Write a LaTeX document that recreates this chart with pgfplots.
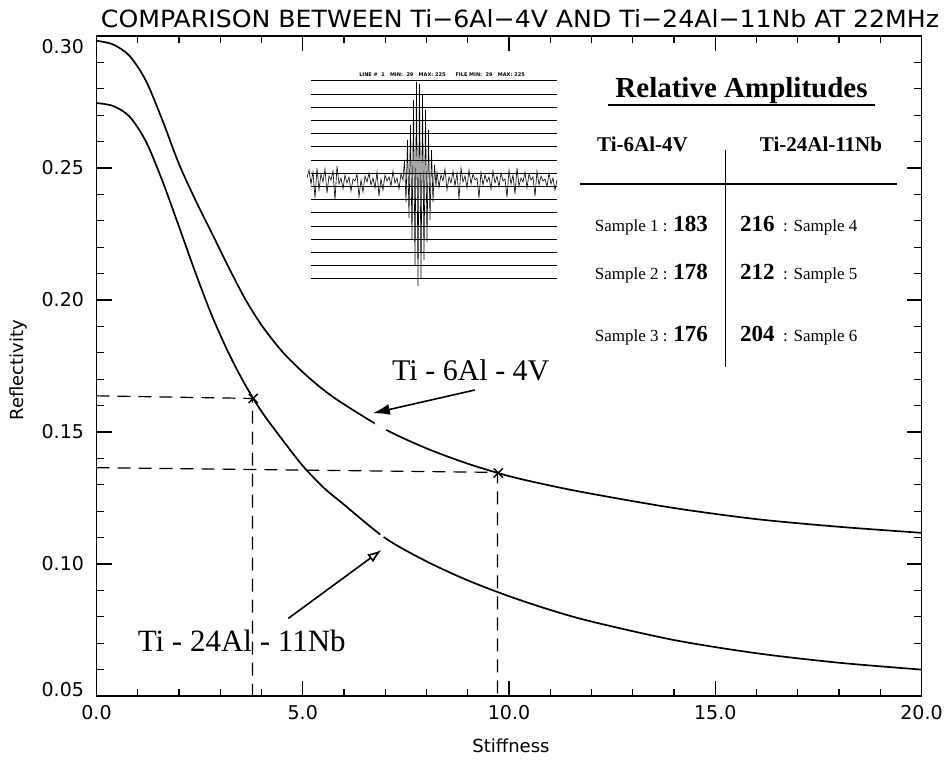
\documentclass[border=0pt]{standalone}
\usepackage{graphicx}
\usepackage{pgfplots}
\pgfplotsset{compat=1.18}
\usepackage{fontspec}
\setmainfont{DejaVu Sans}
\newfontfamily\tnr{Liberation Serif}
\usetikzlibrary{arrows.meta}
\newcommand{\yl}[2]{\raisebox{#1}[0pt][0pt]{#2}}

\begin{document}
\begin{tikzpicture}[x=1pt,y=1pt]
\path[use as bounding box] (-96.5,-65) rectangle (851.5,696);
\begin{axis}[
  at={(0,0)}, anchor=south west,
  scale only axis, width=825pt, height=660pt,
  xmin=0, xmax=20, ymin=0.05, ymax=0.30,
  xtick={0,5,10,15,20}, minor x tick num=4,
  xticklabels={0.0,5.0,10.0,15.0,20.0},
  ytick={0.05,0.10,0.15,0.20,0.25,0.30}, minor y tick num=4,
  yticklabels={\yl{0pt}{0.05},\yl{-6.9pt}{0.10},\yl{-6.9pt}{0.15},\yl{-6.9pt}{0.20},\yl{-6.9pt}{0.25},\yl{-17.5pt}{0.30}},
  xtick pos=both, ytick pos=both,
  xticklabel pos=lower, yticklabel pos=left,
  tick align=inside,
  major tick length=15pt, minor tick length=7.5pt,
  every tick/.style={black, line width=1.3pt},
  axis line style={line width=1.6pt},
  xticklabel style={font=\fontsize{19}{19}\selectfont, yshift=-6pt},
  yticklabel style={font=\fontsize{19}{19}\selectfont, xshift=-9pt},
  clip=false,
]
% Ti-6Al-4V
\addplot[black, line width=1.7pt, smooth, tension=0.5] coordinates {
(0,0.2982) (0.4,0.2968) (0.8,0.2925) (1.2,0.2830) (1.6,0.2680) (2.0,0.2515)
(2.4,0.2378) (2.8,0.2252) (3.2,0.2125) (3.6,0.2005) (4.0,0.1905) (4.5,0.1805)
(5.0,0.1727) (5.5,0.1660) (6.0,0.1605) (7.0,0.1510) (8.0,0.1438) (9.0,0.1380)
(10,0.1333) (11,0.1297) (12,0.1266) (14,0.1212) (16,0.1170) (18,0.1141) (20,0.1118)};
% Ti-24Al-11Nb
\addplot[black, line width=1.7pt, smooth, tension=0.5] coordinates {
(0,0.2746) (0.4,0.2735) (0.8,0.2695) (1.2,0.2600) (1.6,0.2450) (2.0,0.2278)
(2.4,0.2103) (2.8,0.1940) (3.2,0.1800) (3.6,0.1680) (4.0,0.1578) (4.5,0.1472)
(5.0,0.1372) (5.5,0.1290) (6.0,0.1225) (7.0,0.1098) (8.0,0.1010) (9.0,0.0938)
(10,0.0878) (11,0.0826) (12,0.0782) (14,0.0712) (16,0.0662) (18,0.0626) (20,0.0600)};
% small breaks in the curves near the arrow heads
\draw[white, line width=3.5pt] (axis cs:6.76,0.1535) -- (axis cs:7.02,0.1508);
\draw[white, line width=3.5pt] (axis cs:6.88,0.1111) -- (axis cs:6.96,0.1103);
% dashed guides
\addplot[black, line width=1.2pt, dash pattern=on 13pt off 8pt] coordinates {(0,0.1637) (3.78,0.1627) (3.78,0.05)};
\addplot[black, line width=1.2pt, dash pattern=on 13pt off 8pt] coordinates {(0,0.1365) (9.72,0.1347) (9.72,0.05)};
% markers
\addplot[black, only marks, mark=x, mark size=6.5pt, line width=1.4pt] coordinates {(3.80,0.1627) (9.74,0.1345)};
% arrows
\draw[-{Latex[length=17pt,width=11pt]}, line width=1.6pt] (axis cs:9.17,0.1659) -- (axis cs:6.70,0.1571);
\draw[-{Latex[open,length=14pt,width=10pt]}, line width=1.6pt] (axis cs:4.65,0.0794) -- (axis cs:6.91,0.1053);
\end{axis}

% inset waveform
\begin{axis}[
  at={(210.5,406)}, anchor=south west,
  scale only axis, width=250pt, height=210pt,
  xmin=0, xmax=250, ymin=0, ymax=210,
  hide axis, clip=false]
\pgfplotsinvokeforeach{209,195.8,182.6,169.4,156.2,143,129.8,116.6,103.4,90.2,77,63.8,50.6,37.4,24.2,11}{
  \addplot[black, line width=1pt] coordinates {(4,#1) (250,#1)};
}
\addplot[black, line width=0.6pt] coordinates {
(0,112)(2,120)(4,106)(6,118)(8,92)(10,122)(12,100)(14,116)(16,108)(18,121)(20,97)(22,114)(24,110)(26,119)(28,90)(30,124)(32,106)(34,112)(36,101)(38,115)(40,107)(42,113)(44,99)(46,111)(48,109)(50,116)(52,93)(54,110)(56,98)(58,114)(60,108)(62,117)(64,105)(66,112)(68,102)(70,118)(72,94)(74,111)(76,100)(78,115)(80,109)(82,113)(84,104)(86,119)(88,107)(90,112)(92,101)(94,116)
(96,110)(97.5,130)(99,88)(100.5,150)(102,72)(103.5,165)(105,50)(106.5,190)(108,25)(109.5,208)(111,4)(112.5,206)(114,12)(115.5,195)(117,30)(118.5,180)(120,48)(121.5,160)(123,70)(124.5,140)(126,88)(127.5,125)(129,104)
(130,118)(132,103)(134,115)(136,109)(138,121)(140,100)(142,113)(144,107)(146,119)(148,104)(150,117)(152,91)(154,122)(156,108)(158,114)(160,102)(162,120)(164,106)(166,116)(168,110)(170,112)(172,92)(174,118)(176,105)(178,115)(180,108)(182,113)(184,101)(186,119)(188,107)(190,114)(192,103)(194,117)(196,109)(198,111)(200,93)(202,120)(204,106)(206,115)(208,96)(210,122)(212,104)(214,112)(216,108)(218,118)(220,102)(222,116)(224,110)(226,113)(228,94)(230,119)(232,105)(234,114)(236,109)(238,111)(240,103)(242,117)(244,106)(246,112)(248,100)(250,110)};
\node[font=\bfseries\fontsize{5}{5}\selectfont, anchor=base] at (axis cs:135,213) {LINE \#\ \ 1\ \ \ MIN:\ \ 29\ \ \ MAX:\ 225\qquad FILE MIN:\ \ 29\ \ \ MAX:\ 225};
\end{axis}

% title and axis labels
\node[anchor=base, inner sep=0] at (423.5,668) {\resizebox{838pt}{18pt}{COMPARISON BETWEEN Ti−6Al−4V AND Ti−24Al−11Nb AT 22MHz}};
\node[anchor=base, inner sep=0] at (414.5,-56) {\fontsize{18}{18}\selectfont Stiffness};
\node[anchor=base, inner sep=0, rotate=90] at (-72.5,326) {\fontsize{18}{18}\selectfont Reflectivity};

% curve labels
\node[anchor=base, inner sep=0] at (374.3,315) {\tnr\fontsize{30}{30}\selectfont Ti - 6Al - 4V};
\node[anchor=base, inner sep=0] at (145.2,45) {\tnr\fontsize{31}{31}\selectfont Ti - 24Al - 11Nb};

% relative amplitudes table
\node[anchor=base, inner sep=0] at (645,598) {\tnr\bfseries\fontsize{29}{29}\selectfont Relative Amplitudes};
\draw[line width=1.6pt] (511.5,591) -- (778.5,591);
\node[anchor=base, inner sep=0] at (546,544) {\tnr\bfseries\fontsize{21}{21}\selectfont Ti-6Al-4V};
\node[anchor=base, inner sep=0] at (724.5,544) {\tnr\bfseries\fontsize{21}{21}\selectfont Ti-24Al-11Nb};
\draw[line width=1.3pt] (483.5,512) -- (800.5,512);
\draw[line width=1.3pt] (629.2,546) -- (629.2,329);
\node[anchor=base east, inner sep=0] at (611.5,464) {\tnr\fontsize{17}{17}\selectfont Sample 1 : {\bfseries\fontsize{23}{23}\selectfont 183}};
\node[anchor=base east, inner sep=0] at (611.5,416) {\tnr\fontsize{17}{17}\selectfont Sample 2 : {\bfseries\fontsize{23}{23}\selectfont 178}};
\node[anchor=base east, inner sep=0] at (611.5,354) {\tnr\fontsize{17}{17}\selectfont Sample 3 : {\bfseries\fontsize{23}{23}\selectfont 176}};
\node[anchor=base west, inner sep=0] at (643.5,464) {\tnr{\bfseries\fontsize{23}{23}\selectfont 216}\fontsize{17}{17}\selectfont\ \ : Sample 4};
\node[anchor=base west, inner sep=0] at (643.5,416) {\tnr{\bfseries\fontsize{23}{23}\selectfont 212}\fontsize{17}{17}\selectfont\ \ : Sample 5};
\node[anchor=base west, inner sep=0] at (643.5,354) {\tnr{\bfseries\fontsize{23}{23}\selectfont 204}\fontsize{17}{17}\selectfont\ \ : Sample 6};
\end{tikzpicture}
\end{document}
